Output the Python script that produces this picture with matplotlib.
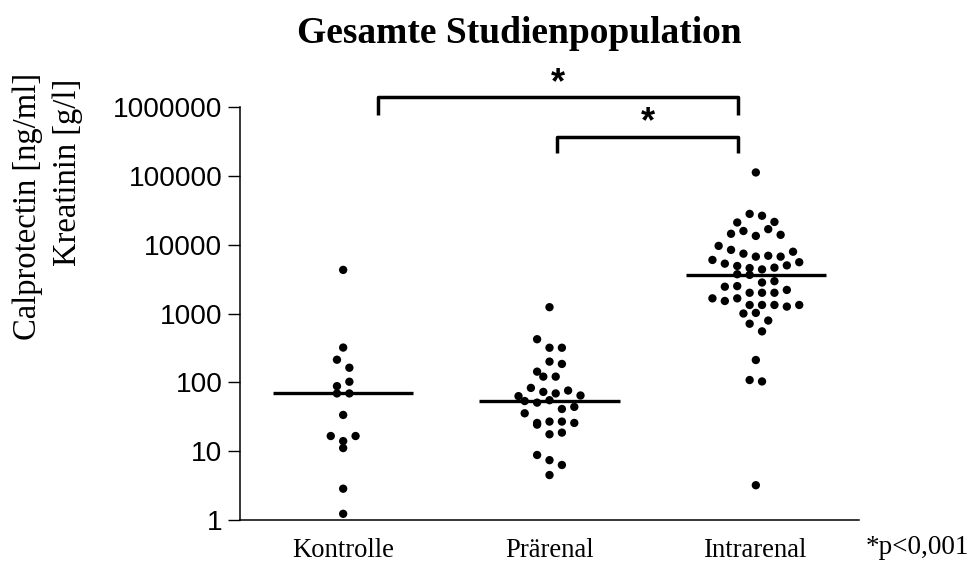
import numpy as np
import matplotlib
matplotlib.use("Agg")
import matplotlib.pyplot as plt
from matplotlib.ticker import FixedLocator, FixedFormatter, NullLocator
import matplotlib.transforms as mtransforms

# ---------------- data ----------------
categories = ["Kontrolle", "Prärenal", "Intrarenal"]

kontrolle = [4300, 320, 213, 163, 88, 69, 69, 102, 33.6, 16.6, 11.1, 14, 16.6, 2.85, 1.23]

praerenal = [1235, 423, 318, 318, 143, 200, 121, 185, 121,
             63, 83, 72.6, 69, 76, 64.4, 53.5, 50.7, 55,
             41, 44, 35.5, 25.7, 24.3, 26.9, 26.9, 25.7,
             17.6, 18.6, 8.8, 7.4, 6.3, 4.5]

intrarenal = [112000,
              21000, 28000, 26300, 21400,
              14400, 15800, 13400, 16800, 13900,
              9600,
              8400, 7400, 6700, 6000, 6900, 6700, 7900,
              5300, 4900, 4570, 3720, 3640, 4370, 4640, 5000, 5560,
              2820, 2450, 2500, 2950,
              2000, 2000, 1660, 1520, 1660, 2000, 2200,
              1330, 1330, 1330, 1000, 1020, 1260, 1330,
              710, 790,
              550,
              211,
              108, 103,
              3.2]

groups = [kontrolle, praerenal, intrarenal]

ytick_values = [1, 10, 100, 1000, 10000, 100000, 1000000]
ytick_labels = ["1", "10", "100", "1000", "10000", "100000", "1000000"]

# significance brackets: (start group, end group, label)
brackets = [(0, 2, "*"), (1, 2, "*")]
title = "Gesamte Studienpopulation"
ylabel_lines = ["Calprotectin [ng/ml]", "Kreatinin [g/l]"]
note = "*p<0,001"

# ---------------- figure ----------------
W, H, DPI = 977, 568, 100
fig = plt.figure(figsize=(W / DPI, H / DPI), dpi=DPI)
fig.patch.set_facecolor("white")

ax_l, ax_r, ax_t, ax_b = 240, 859, 107, 520
ax = fig.add_axes([ax_l / W, 1 - ax_b / H, (ax_r - ax_l) / W, (ax_b - ax_t) / H])
ax.set_yscale("log")
ax.set_ylim(1, 1e6)
ax.set_xlim(-0.5, 2.5)

serif = ["Liberation Serif", "DejaVu Serif"]
sans = ["Liberation Sans", "DejaVu Sans"]

# swarm layout computed in pixel space
def swarm_x(ax, xc, vals, bin_h=10.8, step=12.4):
    vals = np.asarray(vals, float)
    pts = np.column_stack([np.full(len(vals), xc), vals])
    pix_y = ax.transData.transform(pts)[:, 1]
    px_per_unit = ax.transData.transform((1, 1))[0] - ax.transData.transform((0, 1))[0]
    order = np.argsort(-pix_y, kind="stable")
    xs = np.full(len(vals), float(xc))
    i = 0
    while i < len(order):
        start = pix_y[order[i]]
        j = i
        while j < len(order) and start - pix_y[order[j]] < bin_h:
            j += 1
        members = sorted(order[i:j])
        n = len(members)
        for k, m in enumerate(members):
            xs[m] = xc + (k - (n - 1) / 2) * step / px_per_unit
        i = j
    return xs

for gi, vals in enumerate(groups):
    xs = swarm_x(ax, gi, vals)
    ax.scatter(xs, vals, s=36, color="black", edgecolors="none", zorder=3, clip_on=False)
    ax.hlines(np.median(vals), gi - 0.34, gi + 0.34, color="black", lw=2.4, zorder=4)

# axes styling
for s in ["top", "right"]:
    ax.spines[s].set_visible(False)
for s in ["left", "bottom"]:
    ax.spines[s].set_linewidth(1.1)
ax.yaxis.set_major_locator(FixedLocator(ytick_values))
ax.yaxis.set_major_formatter(FixedFormatter(ytick_labels))
ax.yaxis.set_minor_locator(NullLocator())
ax.tick_params(axis="y", length=8.6, width=1.0, pad=4.0, labelsize=20.2)
for lab in ax.get_yticklabels():
    lab.set_fontfamily(sans)
ax.set_xticks(range(len(categories)))
ax.set_xticklabels(categories, fontsize=19.2, fontfamily=serif)
ax.tick_params(axis="x", length=0, pad=13)

# brackets
trans = mtransforms.blended_transform_factory(ax.transData, ax.transAxes)
br_geom = [(0.170, 1.915, 1.0235, 0.9806, 1.0555), (1.038, 1.915, 0.928, 0.889, 0.9625)]
for (g0, g1, lab), (x0, x1, yl, yb, ys) in zip(brackets, br_geom):
    ax.plot([x0, x0, x1, x1], [yb, yl, yl, yb], color="black", lw=2.5,
            transform=trans, clip_on=False, solid_capstyle="butt")
    ax.text((x0 + x1) / 2, ys, lab, transform=trans, ha="center", va="center",
            fontsize=26, fontfamily=sans, fontweight="bold")

# title
fig.text(519 / W, 1 - 43 / H, title, ha="center", va="baseline",
         fontsize=27, fontweight="bold", fontfamily=serif)

# y label (two lines)
fig.text(27.5 / W, 1 - 206 / H, ylabel_lines[0], rotation=90, ha="center", va="center",
         fontsize=23.5, fontfamily=serif)
fig.text(67.5 / W, 1 - 172.5 / H, ylabel_lines[1], rotation=90, ha="center", va="center",
         fontsize=23.5, fontfamily=serif)

# note
fig.text(866 / W, 1 - 554 / H, note, ha="left", va="baseline", fontsize=19.5, fontfamily=serif)

fig.savefig("out.png", dpi=DPI, facecolor="white")
